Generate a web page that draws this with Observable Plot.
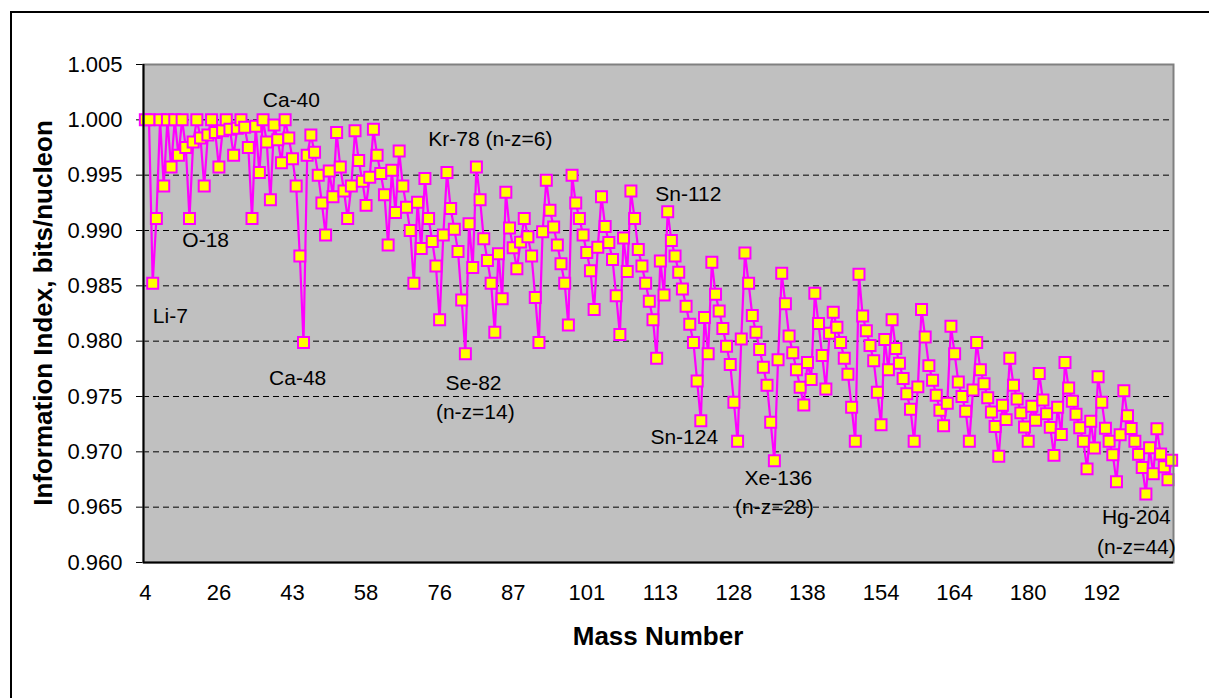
<!DOCTYPE html>
<html><head><meta charset="utf-8">
<script src="https://cdn.jsdelivr.net/npm/d3@7"></script>
<script src="https://cdn.jsdelivr.net/npm/@observablehq/plot@0.6"></script>
<style>
html,body{margin:0;padding:0;background:#fff;}
#chart{width:1209px;height:698px;}
#chart svg text{font-family:Arial,"Liberation Sans",sans-serif;}
</style>
</head><body><div id="chart"></div>
<script>
// Natural nuclides ordered by Z, then A
const nuclides = ["He-4","Li-6","Li-7","Be-9","B-10","B-11","C-12","C-13","N-14","N-15","O-16","O-17","O-18","F-19","Ne-20","Ne-21","Ne-22","Na-23","Mg-24","Mg-25","Mg-26","Al-27","Si-28","Si-29","Si-30","P-31","S-32","S-33","S-34","S-36","Cl-35","Cl-37","Ar-36","Ar-38","Ar-40","K-39","K-40","K-41","Ca-40","Ca-42","Ca-43","Ca-44","Ca-46","Ca-48","Sc-45","Ti-46","Ti-47","Ti-48","Ti-49","Ti-50","V-50","V-51","Cr-50","Cr-52","Cr-53","Cr-54","Mn-55","Fe-54","Fe-56","Fe-57","Fe-58","Co-59","Ni-58","Ni-60","Ni-61","Ni-62","Ni-64","Cu-63","Cu-65","Zn-64","Zn-66","Zn-67","Zn-68","Zn-70","Ga-69","Ga-71","Ge-70","Ge-72","Ge-73","Ge-74","Ge-76","As-75","Se-74","Se-76","Se-77","Se-78","Se-80","Se-82","Br-79","Br-81","Kr-78","Kr-80","Kr-82","Kr-83","Kr-84","Kr-86","Rb-85","Rb-87","Sr-84","Sr-86","Sr-87","Sr-88","Y-89","Zr-90","Zr-91","Zr-92","Zr-94","Zr-96","Nb-93","Mo-92","Mo-94","Mo-95","Mo-96","Mo-97","Mo-98","Mo-100","Ru-96","Ru-98","Ru-99","Ru-100","Ru-101","Ru-102","Ru-104","Rh-103","Pd-102","Pd-104","Pd-105","Pd-106","Pd-108","Pd-110","Ag-107","Ag-109","Cd-106","Cd-108","Cd-110","Cd-111","Cd-112","Cd-113","Cd-114","Cd-116","In-113","In-115","Sn-112","Sn-114","Sn-115","Sn-116","Sn-117","Sn-118","Sn-119","Sn-120","Sn-122","Sn-124","Sb-121","Sb-123","Te-120","Te-122","Te-123","Te-124","Te-125","Te-126","Te-128","Te-130","I-127","Xe-124","Xe-126","Xe-128","Xe-129","Xe-130","Xe-131","Xe-132","Xe-134","Xe-136","Cs-133","Ba-130","Ba-132","Ba-134","Ba-135","Ba-136","Ba-137","Ba-138","La-138","La-139","Ce-136","Ce-138","Ce-140","Ce-142","Pr-141","Nd-142","Nd-143","Nd-144","Nd-145","Nd-146","Nd-148","Nd-150","Sm-144","Sm-147","Sm-148","Sm-149","Sm-150","Sm-152","Sm-154","Eu-151","Eu-153","Gd-152","Gd-154","Gd-155","Gd-156","Gd-157","Gd-158","Gd-160","Tb-159","Dy-156","Dy-158","Dy-160","Dy-161","Dy-162","Dy-163","Dy-164","Ho-165","Er-162","Er-164","Er-166","Er-167","Er-168","Er-170","Tm-169","Yb-168","Yb-170","Yb-171","Yb-172","Yb-173","Yb-174","Yb-176","Lu-175","Lu-176","Hf-174","Hf-176","Hf-177","Hf-178","Hf-179","Hf-180","Ta-180","Ta-181","W-180","W-182","W-183","W-184","W-186","Re-185","Re-187","Os-184","Os-186","Os-187","Os-188","Os-189","Os-190","Os-192","Ir-191","Ir-193","Pt-190","Pt-192","Pt-194","Pt-195","Pt-196","Pt-198","Au-197","Hg-196","Hg-198","Hg-199","Hg-200","Hg-201","Hg-202","Hg-204","Tl-203","Tl-205","Pb-204","Pb-206","Pb-207","Pb-208","Bi-209"];

// Information index, bits/nucleon
const infoIndex = [
1.00000,1.00000,0.98523,0.99108,1.00000,0.99403,1.00000,0.99573,1.00000,0.99679,
1.00000,0.99750,0.99108,0.99800,1.00000,0.99836,0.99403,0.99864,1.00000,0.99885,
0.99573,0.99901,1.00000,0.99914,0.99679,0.99925,1.00000,0.99934,0.99750,0.99108,
0.99941,0.99525,1.00000,0.99800,0.99277,0.99953,0.99820,0.99613,1.00000,0.99836,
0.99649,0.99403,0.98769,0.97987,0.99679,0.99864,0.99706,0.99499,0.99248,0.98959,
0.99538,0.99306,0.99885,0.99573,0.99357,0.99108,0.99403,0.99901,0.99632,0.99444,
0.99227,0.99481,0.99914,0.99679,0.99515,0.99323,0.98870,0.99545,0.99162,0.99718,
0.99403,0.99211,0.98999,0.98523,0.99256,0.98838,0.99469,0.99108,0.98901,0.98679,
0.98194,0.98959,0.99525,0.99199,0.99012,0.98811,0.98371,0.97887,0.99062,0.98666,
0.99573,0.99277,0.98925,0.98729,0.98523,0.98080,0.98789,0.98383,0.99345,0.99022,
0.98844,0.98654,0.98895,0.99108,0.98943,0.98769,0.98394,0.97987,0.98988,0.99454,
0.99182,0.99031,0.98870,0.98700,0.98523,0.98145,0.99499,0.99248,0.99108,0.98959,
0.98802,0.98637,0.98286,0.98848,0.99306,0.99037,0.98891,0.98738,0.98411,0.98060,
0.98933,0.98630,0.99357,0.99108,0.98828,0.98679,0.98523,0.98361,0.98194,0.97845,
0.98725,0.98418,0.99170,0.98909,0.98769,0.98623,0.98472,0.98315,0.98153,0.97987,
0.97641,0.97281,0.98214,0.97887,0.98714,0.98424,0.98272,0.98115,0.97954,0.97790,
0.97449,0.97095,0.98019,0.98796,0.98523,0.98232,0.98080,0.97924,0.97765,0.97602,
0.97267,0.96920,0.97832,0.98613,0.98338,0.98047,0.97896,0.97742,0.97584,0.97424,
0.97807,0.97654,0.98434,0.98159,0.97870,0.97568,0.98072,0.98261,0.98126,0.97987,
0.97845,0.97700,0.97402,0.97095,0.98604,0.98227,0.98095,0.97960,0.97822,0.97538,
0.97245,0.98014,0.97742,0.98194,0.97934,0.97800,0.97663,0.97525,0.97384,0.97095,
0.97587,0.98286,0.98038,0.97779,0.97647,0.97512,0.97375,0.97236,0.97439,0.98134,
0.97887,0.97631,0.97500,0.97367,0.97095,0.97559,0.97987,0.97742,0.97616,0.97489,
0.97359,0.97228,0.96961,0.97420,0.97291,0.97845,0.97602,0.97478,0.97352,0.97224,
0.97095,0.97411,0.97286,0.97708,0.97468,0.97345,0.97221,0.96968,0.97402,0.97157,
0.97807,0.97576,0.97458,0.97339,0.97217,0.97095,0.96846,0.97276,0.97034,0.97678,
0.97449,0.97214,0.97095,0.96974,0.96730,0.97154,0.97553,0.97326,0.97211,0.97095,
0.96977,0.96859,0.96618,0.97037,0.96803,0.97209,0.96980,0.96865,0.96747,0.96925];

// Category-axis labels (every 20th category shows its mass number)
const tickLabels = ["4","26","43","58","76","87","101","113","128","138","154","164","180","192"];
const yTickValues = [0.960,0.965,0.970,0.975,0.980,0.985,0.990,0.995,1.000,1.005];
const gridValues = [0.965,0.970,0.975,0.980,0.985,0.990,0.995,1.000];

// Annotations (category position, value)
const annotationLabels = ["Ca-40","O-18","Li-7","Ca-48","Kr-78 (n-z=6)","Se-82","(n-z=14)","Sn-112","Sn-124","Xe-136","(n-z=28)","Hg-204","(n-z=44)"];
const annotationPos = [40.7,17.4,7.8,42.4,94.8,90.2,90.7,148.6,147.5,173.1,172.0,270.4,270.4];
const annotationValue = [1.00175,0.9891,0.98223,0.97663,0.99822,0.97618,0.97356,0.99325,0.97130,0.96759,0.96497,0.96407,0.96136];

const data = nuclides.map((n, i) => ({nuclide: n, pos: i + 1, value: infoIndex[i]}));
const annotations = annotationLabels.map((t, i) => ({label: t, pos: annotationPos[i], value: annotationValue[i]}));
const tickPositions = tickLabels.map((_, k) => 1 + 20 * k);
const FONT = "Arial, 'Liberation Sans', sans-serif";

const chart = Plot.plot({
  width: 1209, height: 698,
  marginLeft: 143, marginRight: 36, marginTop: 64, marginBottom: 136,
  style: {fontFamily: FONT, fontSize: "22px", background: "white", color: "black"},
  x: {domain: [0.5, nuclides.length + 0.5], ticks: tickPositions,
      tickFormat: v => tickLabels[Math.round((v - 1) / 20)], tickSize: 0, tickPadding: 22, label: null},
  y: {domain: [0.960, 1.005], ticks: yTickValues, tickFormat: d3.format(".3f"),
      tickSize: 7, tickPadding: 14, label: null},
  marks: [
    Plot.frame({fill: "#C0C0C0", stroke: "none"}),
    Plot.ruleY(gridValues, {stroke: "black", strokeWidth: 1, strokeDasharray: "6,4"}),
    Plot.line(data, {x: "pos", y: "value", stroke: "#FF00FF", strokeWidth: 2.2}),
    Plot.dot(data, {x: "pos", y: "value", symbol: "square", r: 6.2, fill: "#FFFF00", stroke: "#FF00FF", strokeWidth: 2}),
    Plot.frame({stroke: "#808080", strokeWidth: 2}),
    Plot.ruleX([0.5], {stroke: "black", strokeWidth: 2}),
    Plot.ruleY([0.960], {stroke: "black", strokeWidth: 2}),
    Plot.text(annotations, {x: "pos", y: "value", text: "label", fontSize: 21, fill: "black"})
  ]
});

const svg = d3.select(chart);
svg.append("rect").attr("x", 11).attr("y", 12).attr("width", 1400).attr("height", 900)
  .attr("fill", "none").attr("stroke", "black").attr("stroke-width", 2);
svg.append("text").text("Mass Number")
  .attr("x", 658).attr("y", 636).attr("dy", "0.35em").attr("text-anchor", "middle")
  .attr("font-family", FONT).attr("font-size", 26).attr("font-weight", "bold").attr("fill", "black");
svg.append("text").text("Information Index, bits/nucleon")
  .attr("transform", "translate(43,313) rotate(-90)").attr("dy", "0.35em").attr("text-anchor", "middle")
  .attr("font-family", FONT).attr("font-size", 26).attr("font-weight", "bold").attr("fill", "black");

document.getElementById("chart").appendChild(chart);
</script>
</body></html>
